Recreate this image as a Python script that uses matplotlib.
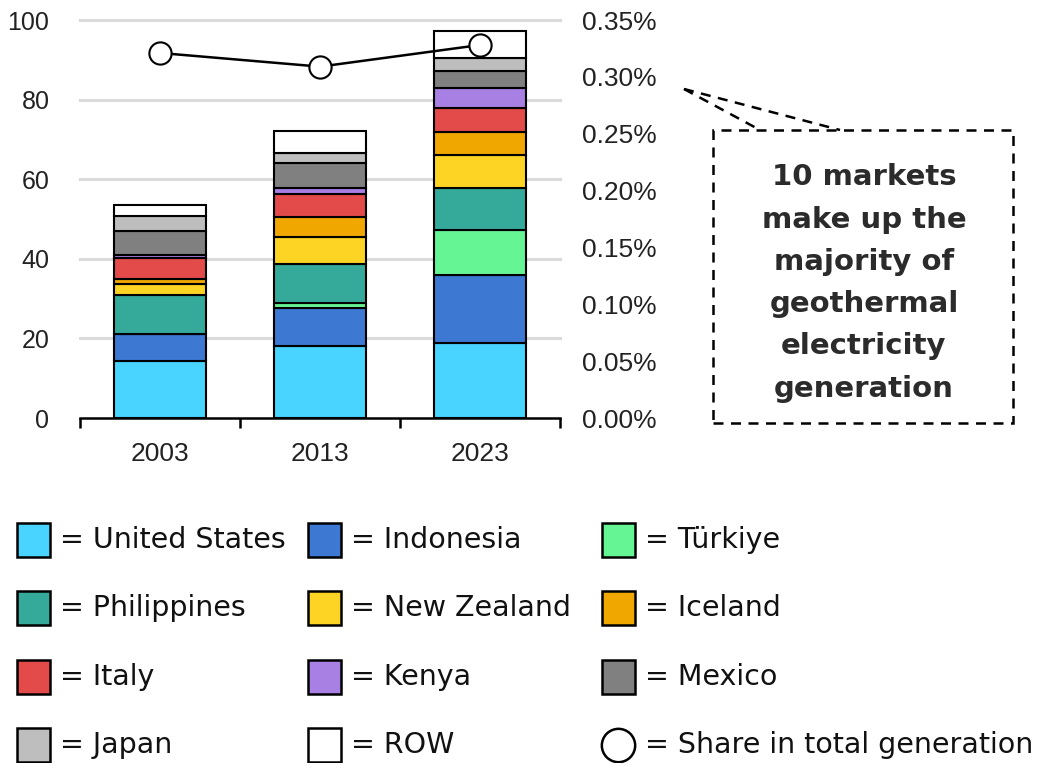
import matplotlib
matplotlib.use('Agg')
import matplotlib.pyplot as plt
from matplotlib.patches import Rectangle
from matplotlib.lines import Line2D

# Geração geotérmica por mercado (TWh) e participação na geração total (%)
years = ['2003', '2013', '2023']
markets = ['United States', 'Indonesia', 'Türkiye', 'Philippines', 'New Zealand',
           'Iceland', 'Italy', 'Kenya', 'Mexico', 'Japan', 'ROW']
colors = ['#48D4FF', '#3D78D2', '#66F595', '#36AA9A', '#FDD423',
          '#F0A800', '#E34A4A', '#A87FE3', '#808080', '#BEBEBE', '#FFFFFF']

united_states = [14.4, 18.2, 18.8]
indonesia = [6.6, 9.4, 17.1]
turkiye = [0.1, 1.4, 11.3]
philippines = [9.9, 9.6, 10.5]
new_zealand = [2.7, 6.8, 8.4]
iceland = [1.3, 5.2, 5.8]
italy = [5.2, 5.7, 5.9]
kenya = [0.7, 1.6, 5.2]
mexico = [6.1, 6.2, 4.3]
japan = [3.7, 2.6, 3.2]
row = [2.9, 5.5, 6.8]
share = [0.321, 0.309, 0.328]

series = [united_states, indonesia, turkiye, philippines, new_zealand,
          iceland, italy, kenya, mexico, japan, row]

W, H = 1058, 763
fig = plt.figure(figsize=(W / 100, H / 100), dpi=100)
plt.rcParams['font.family'] = ['Liberation Sans', 'DejaVu Sans']


def fxy(x, y):
    # pixel (origem no topo) -> coordenadas da figura
    return x / W, 1 - y / H


ax = fig.add_axes([80 / W, 1 - 418 / H, 480 / W, 398 / H])
x = list(range(len(years)))

bottom = [0.0] * len(years)
for vals, c in zip(series, colors):
    ax.bar(x, vals, bottom=bottom, width=0.575, color=c, edgecolor='black',
           linewidth=1.5, zorder=3)
    bottom = [b + v for b, v in zip(bottom, vals)]

ax.set_xlim(-0.5, 2.5)
ax.set_ylim(0, 100)
ax.set_yticks([0, 20, 40, 60, 80, 100])
for g in [20, 40, 60, 80, 100]:
    ax.axhline(g, color='#DADADA', lw=2.2, zorder=0, clip_on=False)

for s in ['left', 'right', 'top']:
    ax.spines[s].set_visible(False)
ax.spines['bottom'].set_linewidth(1.8)
ax.spines['bottom'].set_zorder(4)

ax.set_xticks([-0.5, 0.5, 1.5, 2.5])
ax.set_xticklabels([])
ax.set_xticks(x, minor=True)
ax.set_xticklabels(years, minor=True, fontsize=19, color='#222222')
ax.tick_params(axis='x', which='major', length=7, width=1.8, direction='out')
ax.tick_params(axis='x', which='minor', length=0, pad=17)
ax.tick_params(axis='y', length=0, labelsize=18, labelcolor='#222222', pad=22)

ax2 = ax.twinx()
ax2.set_ylim(0, 0.35)
ax2.set_yticks([0, 0.05, 0.10, 0.15, 0.20, 0.25, 0.30, 0.35])
ax2.set_yticklabels(['%.2f%%' % v for v in ax2.get_yticks()])
ax2.tick_params(axis='y', length=0, labelsize=19, labelcolor='#222222', pad=16)
for s in ax2.spines.values():
    s.set_visible(False)
ax2.plot(x, share, color='black', lw=1.8, marker='o', markersize=16,
         markerfacecolor='white', markeredgecolor='black', markeredgewidth=1.5,
         zorder=5, clip_on=False)

# Caixa de destaque tracejada
x0, y0 = fxy(713, 423)
x1, y1 = fxy(1013, 130)
fig.add_artist(Rectangle((x0, y0), x1 - x0, y1 - y0, transform=fig.transFigure,
                         fill=False, edgecolor='black', lw=1.8, ls=(0, (4, 3))))
apex = fxy(684, 89)
for px in [760, 840]:
    end = fxy(px, 130)
    fig.add_artist(Line2D([apex[0], end[0]], [apex[1], end[1]], transform=fig.transFigure,
                          color='black', lw=1.8, ls=(0, (4, 3))))
tx, ty = fxy(864, 283)
fig.text(tx, ty, '10 markets\nmake up the\nmajority of\ngeothermal\nelectricity\ngeneration',
         ha='center', va='center', fontsize=21, fontweight='bold', color='#2b2b2b',
         family=['DejaVu Sans'], linespacing=1.65)

# Legenda manual em 4 linhas x 3 colunas
leg_labels = ['United States', 'Indonesia', 'Türkiye',
              'Philippines', 'New Zealand', 'Iceland',
              'Italy', 'Kenya', 'Mexico',
              'Japan', 'ROW', 'Share in total generation']
col_x = [17, 308, 602]
row_y = [540, 608, 677, 745]
for i, lab in enumerate(leg_labels):
    r, c = divmod(i, 3)
    cx, cy = col_x[c], row_y[r]
    if i < len(colors):
        color = colors[markets.index(lab)]
        bx, by = fxy(cx, cy + 17)
        fig.add_artist(Rectangle((bx, by), 33 / W, 34 / H, transform=fig.transFigure,
                                 facecolor=color, edgecolor='black', lw=1.8))
    else:
        mx, my = fxy(cx + 16, cy)
        fig.add_artist(Line2D([mx], [my], transform=fig.transFigure, marker='o',
                              markersize=24, markerfacecolor='white',
                              markeredgecolor='black', markeredgewidth=1.8))
    lx, ly = fxy(cx + 43, cy)
    fig.text(lx, ly, '= ' + lab, ha='left', va='center', fontsize=20.5,
             color='#111111', family=['DejaVu Sans'])

fig.savefig('out.png', dpi=100)
